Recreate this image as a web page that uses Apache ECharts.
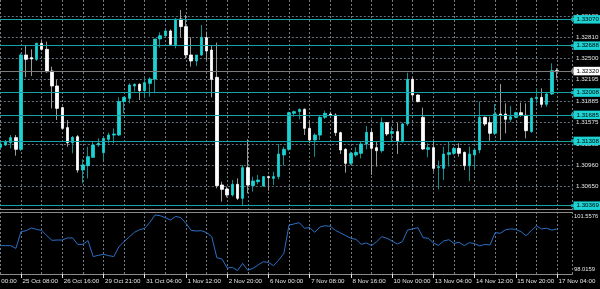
<!DOCTYPE html>
<html><head><meta charset="utf-8">
<script src="https://cdn.jsdelivr.net/npm/echarts@6/dist/echarts.min.js"></script>
<style>html,body{margin:0;padding:0;background:#000}#c{width:600px;height:289px}</style>
</head><body><div id="c"></div>
<script>
const timeLabels = ["24 Oct 00:00","25 Oct 08:00","26 Oct 16:00","29 Oct 21:00","31 Oct 04:00","1 Nov 12:00","2 Nov 20:00","6 Nov 00:00","7 Nov 08:00","8 Nov 16:00","10 Nov 00:00","13 Nov 04:00","14 Nov 12:00","15 Nov 20:00","17 Nov 04:00"];

const opens = [1.31215,1.31249,1.31282,1.31355,1.31186,1.32553,1.32514,1.32490,1.32722,1.32635,
1.32321,1.32104,1.31790,1.31500,1.31282,1.31369,1.30886,1.30949,1.31070,1.31249,
1.31137,1.31331,1.31393,1.31393,1.31877,1.31925,1.32104,1.32128,1.32036,1.32142,
1.32205,1.32785,1.32833,1.32901,1.32698,1.33075,1.32964,1.32553,1.32466,1.32553,
1.32804,1.32625,1.32229,1.30669,1.30611,1.30524,1.30679,1.30476,1.30920,1.30659,
1.30717,1.30654,1.30790,1.30765,1.30790,1.31104,1.31186,1.31708,1.31732,1.31765,
1.31490,1.31321,1.31393,1.31650,1.31698,1.31683,1.31427,1.31186,1.30983,1.31104,
1.31128,1.31263,1.31432,1.31210,1.31166,1.31572,1.31418,1.31442,1.31297,1.31553,
1.32200,1.31973,1.31650,1.31186,1.31210,1.30920,1.30910,1.31113,1.31128,1.31200,
1.31142,1.30949,1.31104,1.31176,1.31650,1.31572,1.31418,1.31698,1.31698,1.31621,
1.31650,1.31717,1.31679,1.31442,1.31920,1.31939,1.31838,1.31988,1.32326];
const closes = [1.31263,1.31297,1.31355,1.31186,1.32553,1.32490,1.32495,1.32722,1.32635,1.32311,
1.32104,1.31780,1.31490,1.31282,1.31360,1.30886,1.30959,1.31079,1.31249,1.31273,
1.31345,1.31393,1.31408,1.31877,1.31939,1.32118,1.32128,1.32036,1.32152,1.32205,
1.32785,1.32833,1.32901,1.32707,1.33075,1.32964,1.32553,1.32466,1.32553,1.32809,
1.32611,1.32200,1.30659,1.30606,1.30524,1.30679,1.30476,1.30920,1.30669,1.30727,
1.30741,1.30790,1.30775,1.30790,1.31118,1.31186,1.31717,1.31732,1.31765,1.31490,
1.31321,1.31393,1.31650,1.31708,1.31683,1.31427,1.31176,1.30983,1.31128,1.31142,
1.31263,1.31432,1.31200,1.31166,1.31572,1.31408,1.31442,1.31311,1.31553,1.32200,
1.31973,1.31877,1.31191,1.31210,1.30910,1.30935,1.31118,1.31137,1.31200,1.31128,
1.30949,1.31118,1.31176,1.31650,1.31553,1.31418,1.31698,1.31679,1.31621,1.31659,
1.31717,1.31679,1.31456,1.31925,1.31939,1.31838,1.31988,1.32326,1.32316];
const lows = [1.31200,1.31234,1.31200,1.31094,1.31162,1.32229,1.32249,1.32466,1.32616,1.32297,
1.31780,1.31611,1.31476,1.31224,1.31128,1.30848,1.30693,1.30765,1.31070,1.31224,
1.31031,1.31273,1.31273,1.31380,1.31708,1.31852,1.32022,1.31901,1.31925,1.31949,
1.31997,1.32659,1.32809,1.32698,1.32650,1.32809,1.32505,1.32384,1.32393,1.32538,
1.32480,1.31939,1.30621,1.30427,1.30490,1.30500,1.30451,1.30379,1.30548,1.30572,
1.30679,1.30645,1.30587,1.30669,1.30751,1.30949,1.31166,1.31659,1.31621,1.31393,
1.31273,1.31079,1.31321,1.31625,1.31659,1.31379,1.31118,1.30848,1.30959,1.31079,
1.31055,1.31186,1.30814,1.30935,1.31137,1.31379,1.31297,1.31118,1.31282,1.31524,
1.31901,1.31867,1.31176,1.31070,1.30862,1.30606,1.30741,1.30935,1.31104,1.31079,
1.30886,1.30727,1.30910,1.31128,1.31524,1.31311,1.31393,1.31321,1.31418,1.31582,
1.31635,1.31659,1.31345,1.31427,1.31852,1.31794,1.31804,1.31973,1.32215];
const highs = [1.31297,1.31321,1.31393,1.31393,1.32577,1.32698,1.32635,1.32732,1.32780,1.32746,
1.32384,1.32191,1.31804,1.31611,1.31379,1.31393,1.31041,1.31224,1.31297,1.31345,
1.31369,1.31427,1.31490,1.31939,1.31949,1.32142,1.32142,1.32142,1.32229,1.32229,
1.32785,1.32881,1.32925,1.32925,1.33084,1.33205,1.33133,1.32809,1.32553,1.32988,
1.32891,1.32698,1.32732,1.30717,1.30645,1.30741,1.30765,1.30959,1.31331,1.30790,
1.30814,1.30799,1.30804,1.30862,1.31263,1.31224,1.31732,1.31746,1.31780,1.31780,
1.31611,1.31418,1.31669,1.31746,1.31732,1.31708,1.31442,1.31200,1.31152,1.31215,
1.31297,1.31524,1.31490,1.31297,1.31650,1.31582,1.31514,1.31572,1.31572,1.32297,
1.32229,1.31983,1.31790,1.31273,1.31331,1.31022,1.31224,1.31297,1.31224,1.31273,
1.31152,1.31224,1.31200,1.31877,1.31659,1.31659,1.31843,1.32133,1.31852,1.31814,
1.31732,1.31862,1.31852,1.31939,1.32070,1.32070,1.32007,1.32432,1.32360];

const indicator = [99.59,99.59,99.59,99.42,100.46,100.52,100.69,100.60,100.54,100.21,
99.92,99.94,99.94,100.07,100.07,99.67,99.67,99.90,98.91,98.99,
99.05,98.97,98.91,99.53,99.84,100.13,100.42,100.58,100.67,101.04,
101.50,101.45,101.33,101.18,101.41,101.33,100.98,100.54,100.50,100.52,
100.40,100.15,98.84,98.76,98.20,98.24,98.04,98.49,98.06,98.18,
98.39,98.59,98.55,98.35,98.70,99.11,100.87,100.94,101.02,100.67,
100.71,100.42,100.75,100.83,100.79,100.54,100.38,100.21,100.05,99.98,
99.67,99.76,99.59,99.84,100.15,100.05,99.88,99.69,99.84,100.56,
100.63,100.71,100.09,100.05,99.76,99.61,99.88,99.96,99.73,99.80,
99.59,99.78,99.71,99.57,99.67,99.63,100.40,100.36,100.58,100.63,
100.60,100.46,100.21,100.52,100.81,100.63,100.67,100.56,100.63];

const priceTicks = [1.33120,1.32810,1.32500,1.32195,1.31885,1.31575,1.31265,1.30960,1.30650];
const levelLines = [1.33070,1.32688,1.32008,1.31685,1.31308,1.30369];
const currentPrice = 1.32320;
const indicatorScale = [101.5576, 98.0159];

const PAD_L = 4, PAD_R = 3;
const nBars = opens.length;
const N = PAD_L + nBars + PAD_R;
const cats = [];
for (let k = 0; k < N; k++) cats.push(String(k));
const pad = (arr, fill) => Array(PAD_L).fill(fill).concat(arr, Array(PAD_R).fill(fill));
const wickData = pad(opens.map((o, i) => [o, closes[i], lows[i], highs[i]]), '-');
const bodyData = pad(opens.map((o, i) => [o, closes[i], Math.min(o, closes[i]), Math.max(o, closes[i])]), '-');
const indData = pad(indicator, null);

const GRID_COL = '#66727e';
const VGRID_COL = '#6f7b87';
const FRAME = '#8a8a8a';
const TXT = '#e4e4e4';
const FS = 6.2;
const DASH = [2, 2];
const lblFmt = (v, i) => (i % 8 === 0 ? timeLabels[i / 8] : '');
const vGridAxis = (gridIndex, showLine) => ({
  gridIndex, type: 'value', position: 'top', min: 0, max: N - 1, interval: 4,
  axisLine: {show: showLine, lineStyle: {color: FRAME}}, axisTick: {show: false},
  axisLabel: {show: true, inside: true, color: 'rgba(0,0,0,0)', fontSize: 1, formatter: () => ' '},
  splitLine: {show: true, lineStyle: {color: VGRID_COL, type: DASH, width: 1}}
});

const chart = echarts.init(document.getElementById('c'), null, {renderer: 'canvas'});
chart.setOption({
  backgroundColor: '#000000',
  animation: false,
  textStyle: {fontFamily: 'Liberation Sans, Arial, sans-serif', fontSize: FS},
  grid: [
    {left: -20.2, right: 27.5, top: 0, height: 209, outerBoundsMode: 'none', containLabel: false},
    {left: -20.2, right: 27.5, top: 212, height: 62, outerBoundsMode: 'none', containLabel: false}
  ],
  xAxis: [
    {gridIndex: 0, type: 'category', boundaryGap: false, data: cats,
     axisLine: {show: true, lineStyle: {color: FRAME}}, axisTick: {show: false}, axisLabel: {show: false},
     splitLine: {show: false}},
    {gridIndex: 1, type: 'category', boundaryGap: false, data: cats, position: 'bottom',
     axisLine: {show: true, lineStyle: {color: FRAME}},
     axisTick: {show: true, interval: 7, length: 4, lineStyle: {color: TXT}},
     axisLabel: {show: true, interval: 7, align: 'left', margin: 4, color: TXT, fontSize: FS, padding: [0,0,0,1.5], formatter: lblFmt},
     splitLine: {show: false}},
    vGridAxis(1, true),
    vGridAxis(0, false)
  ],
  yAxis: [
    {gridIndex: 0, type: 'value', position: 'right', min: 1.30321, max: 1.3335, scale: true,
     axisLine: {show: true, lineStyle: {color: FRAME}}, axisTick: {show: false}, splitLine: {show: false},
     axisLabel: {show: true, customValues: priceTicks, formatter: v => v.toFixed(5), color: TXT, fontSize: FS, margin: 3.5}},
    {gridIndex: 1, type: 'value', position: 'right', min: 97.828, max: 101.682, scale: true,
     axisLine: {show: true, lineStyle: {color: FRAME}}, axisTick: {show: false}, splitLine: {show: false},
     axisLabel: {show: false}}
  ],
  series: [
    {type: 'candlestick', name: 'wicks', xAxisIndex: 0, yAxisIndex: 0, barWidth: 0.5, data: wickData, z: 2,
     itemStyle: {color: '#129090', color0: '#9a9a9a', borderColor: '#129090', borderColor0: '#9a9a9a', borderWidth: 1},
     markLine: {silent: true, z: 1, symbol: 'none', animation: false, precision: 5,
       lineStyle: {color: GRID_COL, type: DASH, width: 1}, label: {show: false},
       data: priceTicks.map(v => ({yAxis: v}))}},
    {type: 'candlestick', name: 'bodies', xAxisIndex: 0, yAxisIndex: 0, barWidth: 3, data: bodyData, z: 3,
     itemStyle: {color: '#1cd2d2', color0: '#ffffff', borderColor: '#1cd2d2', borderColor0: '#ffffff', borderWidth: 0.8},
     markLine: {silent: true, z: 5, symbol: ['none', 'rect'], symbolSize: 3, animation: false, precision: 5,
       lineStyle: {color: '#16a3a6', type: 'solid', width: 1},
       label: {show: true, position: 'end', distance: 1, color: '#000', backgroundColor: '#1cd2d2',
               padding: [1.5, 3, 1, 3], fontSize: FS, formatter: p => p.value.toFixed(5)},
       data: levelLines.map(v => ({yAxis: v})).concat([{yAxis: currentPrice,
         lineStyle: {color: '#7c7c7c'}, itemStyle: {color: '#7c7c7c'},
         label: {backgroundColor: '#ffffff', color: '#000'}}])}},
    {type: 'line', name: 'index', xAxisIndex: 1, yAxisIndex: 1, data: indData, showSymbol: false, z: 3,
     lineStyle: {color: '#2b6fc4', width: 1}, connectNulls: false,
     markLine: {silent: true, symbol: 'none', animation: false, precision: 4,
       lineStyle: {color: 'rgba(0,0,0,0)', width: 0},
       label: {show: true, position: 'end', distance: 1.5, color: TXT, fontSize: 5.8, formatter: p => p.value.toFixed(4)},
       data: [{yAxis: indicatorScale[0], label: {offset: [0, 2]}}, {yAxis: indicatorScale[1], label: {offset: [0, -2]}}]}}
  ]
});
</script></body></html>
